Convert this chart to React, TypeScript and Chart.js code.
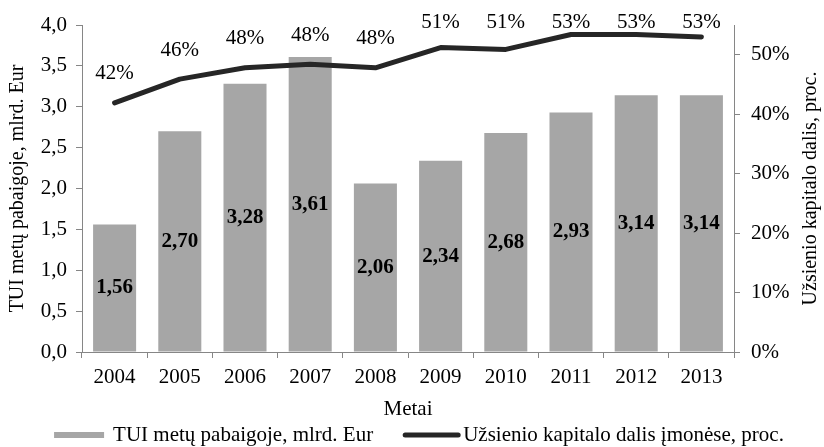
import React, { useEffect, useRef } from 'react';
import { Chart, registerables } from 'chart.js';

Chart.register(...registerables);

const years = ['2004', '2005', '2006', '2007', '2008', '2009', '2010', '2011', '2012', '2013'];
const tuiValues = [1.56, 2.7, 3.28, 3.61, 2.06, 2.34, 2.68, 2.93, 3.14, 3.14];
const foreignShare = [41.9, 45.9, 47.8, 48.4, 47.8, 51.2, 50.9, 53.4, 53.4, 53.0];

const barLabel = 'TUI metų pabaigoje, mlrd. Eur';
const lineLabel = 'Užsienio kapitalo dalis įmonėse, proc.';
const xTitle = 'Metai';
const leftTitle = 'TUI metų pabaigoje, mlrd. Eur';
const rightTitle = 'Užsienio kapitalo dalis, proc.';

const FONT = '"Liberation Serif", "Times New Roman", serif';
const BAR_COLOR = '#a6a6a6';
const LINE_COLOR = '#262626';
const AXIS_COLOR = '#868686';

const fmtComma = (v: number, d: number) => v.toFixed(d).replace('.', ',');

const labelsPlugin = {
  id: 'customLabels',
  afterDatasetsDraw(chart: any) {
    const ctx = chart.ctx;
    ctx.save();
    const barMeta = chart.getDatasetMeta(0);
    ctx.fillStyle = '#000';
    ctx.font = `bold 21px ${FONT}`;
    ctx.textAlign = 'center';
    ctx.textBaseline = 'middle';
    barMeta.data.forEach((el: any, i: number) => {
      const v = chart.data.datasets[0].data[i];
      const cy = (el.y + el.base) / 2;
      ctx.fillText(fmtComma(v, 2), el.x, cy);
    });
    const lineMeta = chart.getDatasetMeta(1);
    ctx.font = `21px ${FONT}`;
    lineMeta.data.forEach((pt: any, i: number) => {
      const v = chart.data.datasets[1].data[i];
      const y = Math.max(pt.y - 29, 22);
      ctx.fillText(Math.round(v) + '%', pt.x, y);
    });
    ctx.restore();
  },
  afterDraw(chart: any) {
    const ctx = chart.ctx;
    const area = chart.chartArea;
    ctx.save();
    ctx.font = `20px ${FONT}`;
    ctx.fillStyle = '#000';
    ctx.textAlign = 'center';
    ctx.textBaseline = 'middle';
    ctx.translate(811, (area.top + area.bottom) / 2);
    ctx.rotate(-Math.PI / 2);
    ctx.fillText(rightTitle, 0, 0);
    ctx.restore();

    // legend
    ctx.save();
    ctx.font = `21px ${FONT}`;
    ctx.textBaseline = 'middle';
    ctx.textAlign = 'left';
    const ds = chart.data.datasets;
    const w1 = ctx.measureText(ds[0].label).width;
    const w2 = ctx.measureText(ds[1].label).width;
    const total = 50 + 9 + w1 + 30 + 57 + 3 + w2;
    let x = 419 - total / 2;
    const y = 435;
    ctx.fillStyle = BAR_COLOR;
    ctx.fillRect(x, y - 3, 50, 6);
    x += 59;
    ctx.fillStyle = '#000';
    ctx.fillText(ds[0].label, x, y);
    x += w1 + 30;
    ctx.strokeStyle = LINE_COLOR;
    ctx.lineWidth = 5;
    ctx.lineCap = 'round';
    ctx.beginPath();
    ctx.moveTo(x + 2, y);
    ctx.lineTo(x + 55, y);
    ctx.stroke();
    x += 60;
    ctx.fillText(ds[1].label, x, y);
    ctx.restore();
  },
};

export default function App() {
  const ref = useRef<HTMLCanvasElement | null>(null);

  useEffect(() => {
    document.body.style.margin = '0';
    const canvas = ref.current;
    if (!canvas) return;
    const font21 = { family: FONT, size: 21 };
    const font20 = { family: FONT, size: 20 };
    const chart = new Chart(canvas, {
      type: 'bar',
      data: {
        labels: years,
        datasets: [
          {
            type: 'bar',
            label: barLabel,
            data: tuiValues,
            backgroundColor: BAR_COLOR,
            borderWidth: 0,
            categoryPercentage: 1,
            barPercentage: 0.66,
            yAxisID: 'y',
            order: 1,
          } as any,
          {
            type: 'line',
            label: lineLabel,
            data: foreignShare,
            borderColor: LINE_COLOR,
            backgroundColor: LINE_COLOR,
            borderWidth: 5,
            pointRadius: 0,
            tension: 0,
            borderCapStyle: 'round',
            borderJoinStyle: 'round',
            yAxisID: 'y1',
            order: 0,
          } as any,
        ],
      },
      options: {
        responsive: false,
        animation: false,
        devicePixelRatio: 1,
        layout: { padding: { top: 25, bottom: 25, left: 0, right: 0 } },
        plugins: {
          legend: { display: false },
          tooltip: { enabled: false },
        },
        scales: {
          x: {
            grid: {
              display: true,
              drawOnChartArea: false,
              drawTicks: true,
              tickLength: 6,
              color: AXIS_COLOR,
              offset: true,
            },
            border: { display: true, color: AXIS_COLOR, width: 1 },
            ticks: { font: font21, color: '#000', padding: 7, maxRotation: 0 },
            title: { display: true, text: xTitle, font: font21, color: '#000', padding: { top: 0, bottom: 0 } },
            afterFit: (s: any) => {
              s.height = 70;
            },
          },
          y: {
            position: 'left',
            min: 0,
            max: 4,
            grid: { display: true, drawOnChartArea: false, drawTicks: true, tickLength: 6, color: AXIS_COLOR },
            border: { display: true, color: AXIS_COLOR, width: 1 },
            ticks: {
              stepSize: 0.5,
              font: font21,
              color: '#000',
              padding: 9,
              callback: (v: any) => fmtComma(Number(v), 1),
            },
            title: { display: true, text: leftTitle, font: font20, color: '#000', padding: { top: 6, bottom: 0 } },
            afterFit: (s: any) => {
              s.width = 82;
            },
          },
          y1: {
            position: 'right',
            min: 0,
            max: 55,
            grid: { display: true, drawOnChartArea: false, drawTicks: true, tickLength: 6, color: AXIS_COLOR },
            border: { display: true, color: AXIS_COLOR, width: 1 },
            ticks: {
              stepSize: 10,
              font: font21,
              color: '#000',
              padding: 11,
              callback: (v: any) => `${v}%`,
            },
            afterBuildTicks: (s: any) => {
              s.ticks = s.ticks.filter((t: any) => t.value <= 50);
            },
            title: { display: false },
            afterFit: (s: any) => {
              s.width = 90;
            },
          },
        },
      } as any,
      plugins: [labelsPlugin],
    });
    return () => chart.destroy();
  }, []);

  return (
    <div style={{ position: 'fixed', left: 0, top: 0, width: 824, height: 447, background: '#fff' }}>
      <canvas ref={ref} width={824} height={447} style={{ display: 'block', width: 824, height: 447 }} />
    </div>
  );
}
